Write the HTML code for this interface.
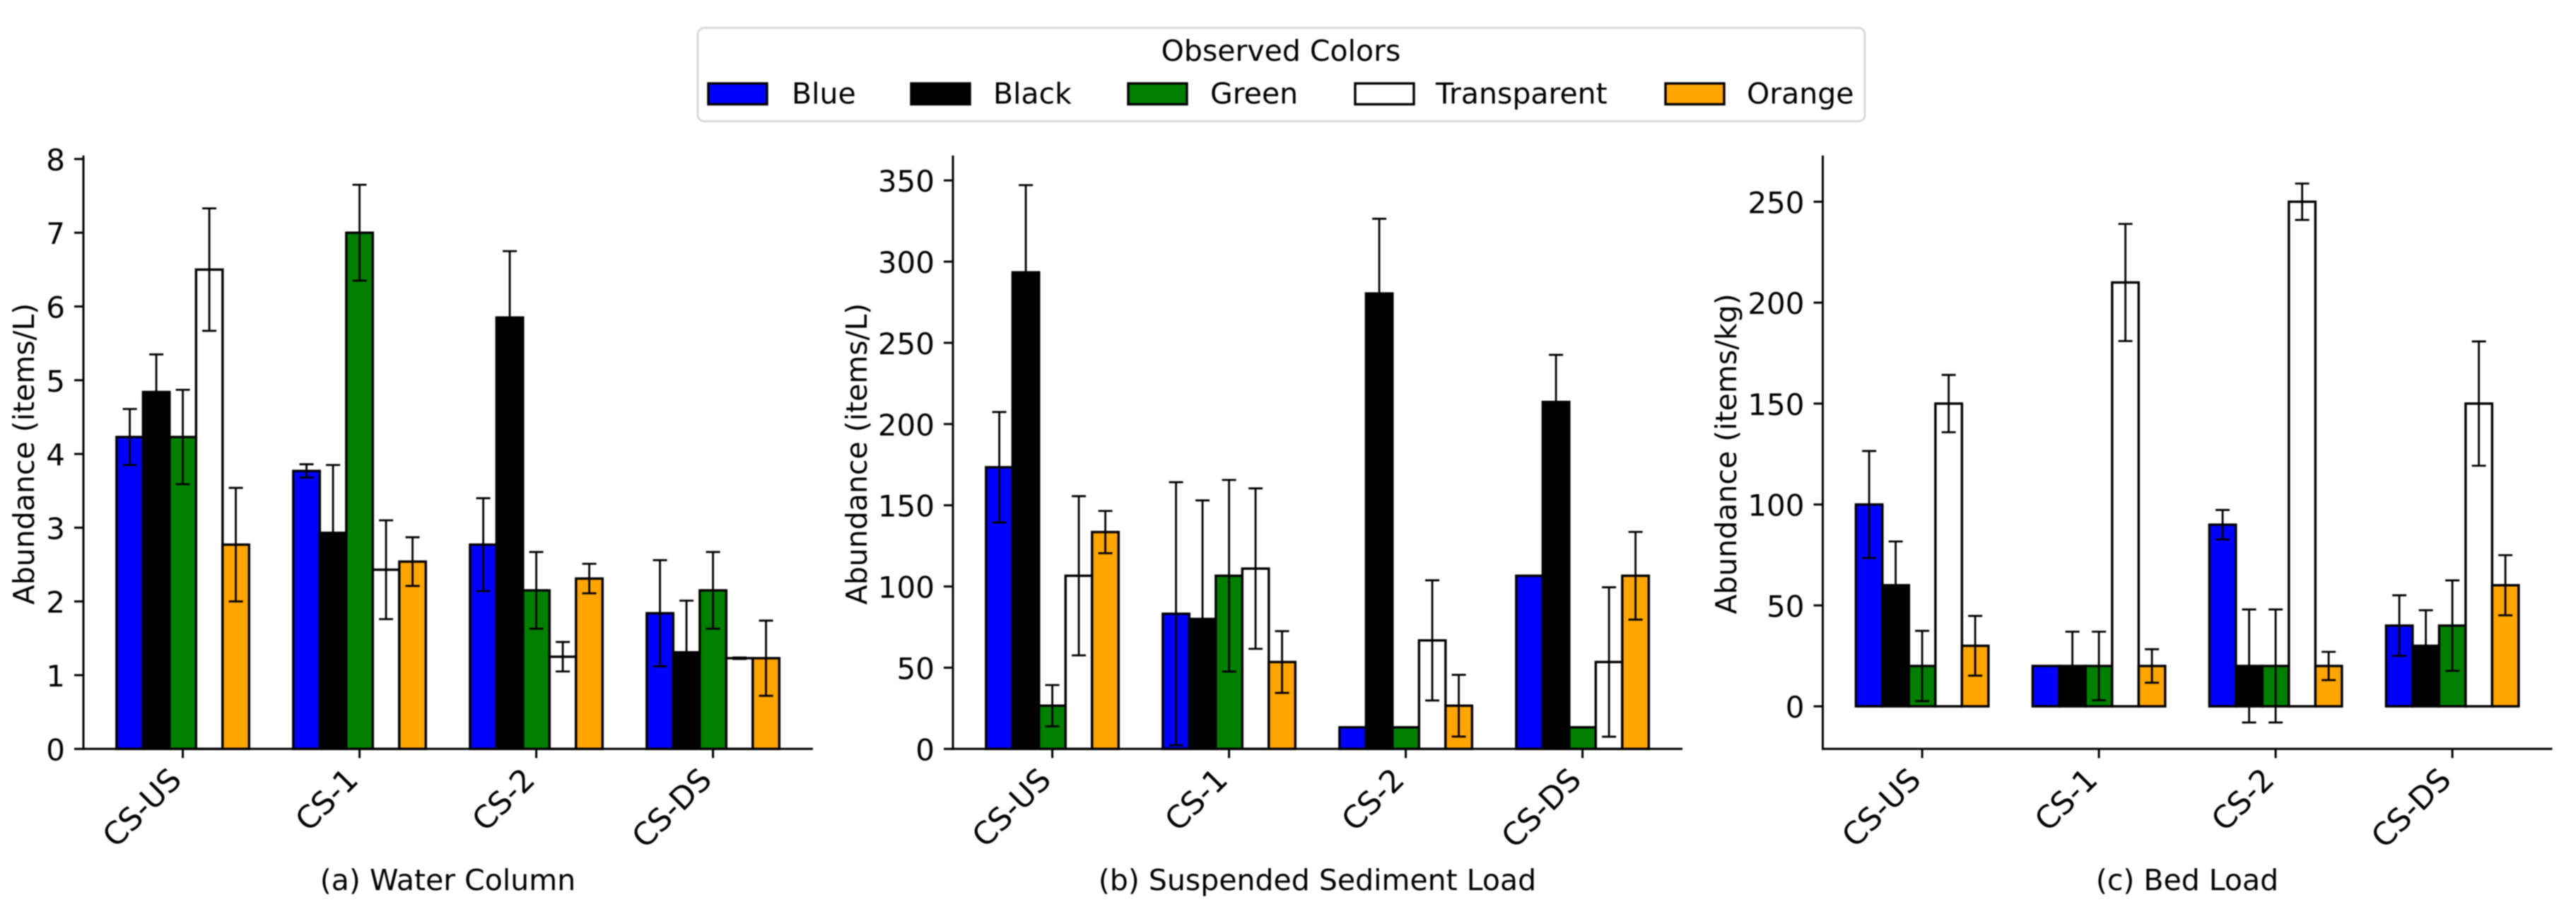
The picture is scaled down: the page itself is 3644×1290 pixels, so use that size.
<!DOCTYPE html>
<html lang="en">
<head>
<meta charset="utf-8">
<title>Observed colors abundance</title>
<style>
html,body{margin:0;padding:0;background:#fff;width:3644px;height:1290px;overflow:hidden}
svg{display:block;filter:blur(0.7px)}
text{font-family:"DejaVu Sans","Liberation Sans",sans-serif;fill:#000;font-size:41px}
text.ytick{font-size:42px}
text.xtick{font-size:44px}
</style>
</head>
<body>
<svg id="chart" xmlns="http://www.w3.org/2000/svg" width="3644" height="1290" viewBox="0 0 3644 1290">
<rect x="0" y="0" width="3644" height="1290" fill="#fff"/>
<g>
<rect x="987" y="39.5" width="1651" height="132" rx="9" ry="9" fill="#fff" stroke="#d9d9d9" stroke-width="3"/>
<text x="1812" y="86" text-anchor="middle">Observed Colors</text>
<g>
<rect x="1002" y="118" width="83" height="29.5" fill="#0000ff" stroke="#000" stroke-width="3.4"/>
<text x="1120" y="146.5">Blue</text>
</g>
<g>
<rect x="1289" y="118" width="83" height="29.5" fill="#000" stroke="#000" stroke-width="3.4"/>
<text x="1405" y="146.5">Black</text>
</g>
<g>
<rect x="1596" y="118" width="83" height="29.5" fill="#008000" stroke="#000" stroke-width="3.4"/>
<text x="1712" y="146.5">Green</text>
</g>
<g>
<rect x="1917" y="118" width="83" height="29.5" fill="#fff" stroke="#000" stroke-width="3.4"/>
<text x="2031" y="146.5">Transparent</text>
</g>
<g>
<rect x="2356" y="118" width="83" height="29.5" fill="#ffa500" stroke="#000" stroke-width="3.4"/>
<text x="2471" y="146.5">Orange</text>
</g>
</g>
<text x="633.5" y="1259" text-anchor="middle">(a) Water Column</text>
<text x="1863.5" y="1259" text-anchor="middle">(b) Suspended Sediment Load</text>
<text x="3094" y="1259" text-anchor="middle">(c) Bed Load</text>
<text transform="translate(48,642) rotate(-90)" text-anchor="middle">Abundance (items/L)</text>
<text transform="translate(1226,642) rotate(-90)" text-anchor="middle">Abundance (items/L)</text>
<text transform="translate(2456,642) rotate(-90)" text-anchor="middle">Abundance (items/kg)</text>
</svg>
<script>
const categories = ['CS-US', 'CS-1', 'CS-2', 'CS-DS'];
const seriesNames = ['blue', 'black', 'green', 'transparent', 'orange'];
const seriesColors = ['#0000ff', '#000000', '#008000', '#ffffff', '#ffa500'];

const waterTicks = [0, 1, 2, 3, 4, 5, 6, 7, 8];
const waterBlue = [4.23, 3.77, 2.77, 1.84];
const waterBlueErr = [0.38, 0.09, 0.63, 0.72];
const waterBlack = [4.84, 2.93, 5.85, 1.31];
const waterBlackErr = [0.51, 0.92, 0.90, 0.70];
const waterGreen = [4.23, 7.00, 2.15, 2.15];
const waterGreenErr = [0.64, 0.65, 0.52, 0.52];
const waterTransparent = [6.50, 2.43, 1.25, 1.23];
const waterTransparentErr = [0.83, 0.67, 0.20, 0.01];
const waterOrange = [2.77, 2.54, 2.31, 1.23];
const waterOrangeErr = [0.77, 0.33, 0.20, 0.51];

const suspendedTicks = [0, 50, 100, 150, 200, 250, 300, 350];
const suspendedBlue = [173.4, 83.2, 13.3, 106.6];
const suspendedBlueErr = [34, 81, 0, 0];
const suspendedBlack = [293.4, 80, 280.4, 213.6];
const suspendedBlackErr = [53.7, 73, 46, 29];
const suspendedGreen = [26.6, 106.6, 13.3, 13.3];
const suspendedGreenErr = [12.7, 59, 0, 0];
const suspendedTransparent = [106.6, 111, 66.8, 53.5];
const suspendedTransparentErr = [49, 49.4, 37, 46];
const suspendedOrange = [133.5, 53.5, 26.6, 106.6];
const suspendedOrangeErr = [13, 19, 19, 27];

const bedTicks = [0, 50, 100, 150, 200, 250];
const bedBlue = [100, 20, 90, 40];
const bedBlueErr = [26.5, 0, 7.3, 15];
const bedBlack = [60, 20, 20, 30];
const bedBlackErr = [21.7, 17, 28, 17.6];
const bedGreen = [20, 20, 20, 40];
const bedGreenErr = [17.4, 17, 28, 22.4];
const bedTransparent = [150, 210, 250, 150];
const bedTransparentErr = [14.2, 29, 9, 30.8];
const bedOrange = [30, 20, 20, 60];
const bedOrangeErr = [14.8, 8.3, 7, 14.9];

const svg = document.getElementById('chart');
const NS = 'http://www.w3.org/2000/svg';

function make(tag, attrs, parent) {
  const el = document.createElementNS(NS, tag);
  for (const k in attrs) el.setAttribute(k, attrs[k]);
  parent.appendChild(el);
  return el;
}

function drawLine(x1, y1, x2, y2, width, parent) {
  return make('line', {x1: x1, y1: y1, x2: x2, y2: y2, stroke: '#000', 'stroke-width': width, 'stroke-linecap': 'butt'}, parent);
}

function drawPanel(name, spineX, zeroY, pxPerUnit, ticks, values, errors) {
  const axisBottom = 1059.3;
  const axisTop = 220;
  const groupStep = 250;
  const barWidth = 37.5;
  const firstGroup = spineX + 140.6;
  const xScale = function (g, s) { return firstGroup + g * groupStep + (s - 2) * barWidth; };
  const yScale = function (v) { return zeroY - v * pxPerUnit; };

  const panel = make('g', {}, svg);
  
  

  values.forEach(function (series, s) {
    series.forEach(function (v, g) {
      const cx = xScale(g, s);
      const top = Math.min(yScale(v), zeroY);
      const h = Math.abs(yScale(v) - zeroY);
      const bar = make('rect', {x: cx - barWidth / 2, y: top, width: barWidth, height: h, fill: seriesColors[s], stroke: '#000', 'stroke-width': 3.4}, panel);
      
      
    });
  });

  errors.forEach(function (series, s) {
    series.forEach(function (e, g) {
      const cx = xScale(g, s);
      const hi = yScale(values[s][g] + e);
      const lo = yScale(values[s][g] - e);
      const err = make('g', {}, panel);
      
      
      drawLine(cx, hi, cx, lo, 2.8, err);
      drawLine(cx - 10, hi, cx + 10, hi, 2.8, err);
      drawLine(cx - 10, lo, cx + 10, lo, 2.8, err);
    });
  });

  const leftSpine = drawLine(spineX, axisTop, spineX, axisBottom + 1.5, 3, panel);
  
  
  const bottomSpine = drawLine(spineX - 1.5, axisBottom, spineX + 1032, axisBottom, 3, panel);
  
  

  ticks.forEach(function (t) {
    const y = yScale(t);
    const mark = drawLine(spineX - 13, y, spineX, y, 3, panel);
    
    
    const label = make('text', {x: spineX - 26, y: y + 16, 'text-anchor': 'end', 'class': 'ytick'}, panel);
    label.textContent = String(t);
    
    
  });

  categories.forEach(function (c, g) {
    const x = xScale(g, 2);
    const mark = drawLine(x, axisBottom, x, axisBottom + 13, 3, panel);
    
    
    const label = make('text', {transform: 'translate(' + (x + 0.5) + ',1105.5) rotate(-45)', 'text-anchor': 'end', 'class': 'xtick'}, panel);
    label.textContent = c;
    
    
  });
}

drawPanel('water-column', 118, 1059.3, 104.3, waterTicks,
  [waterBlue, waterBlack, waterGreen, waterTransparent, waterOrange],
  [waterBlueErr, waterBlackErr, waterGreenErr, waterTransparentErr, waterOrangeErr]);
drawPanel('suspended-sediment', 1348, 1059.3, 2.2974, suspendedTicks,
  [suspendedBlue, suspendedBlack, suspendedGreen, suspendedTransparent, suspendedOrange],
  [suspendedBlueErr, suspendedBlackErr, suspendedGreenErr, suspendedTransparentErr, suspendedOrangeErr]);
drawPanel('bed-load', 2578.5, 999.1, 2.855, bedTicks,
  [bedBlue, bedBlack, bedGreen, bedTransparent, bedOrange],
  [bedBlueErr, bedBlackErr, bedGreenErr, bedTransparentErr, bedOrangeErr]);
</script>
</body>
</html>
